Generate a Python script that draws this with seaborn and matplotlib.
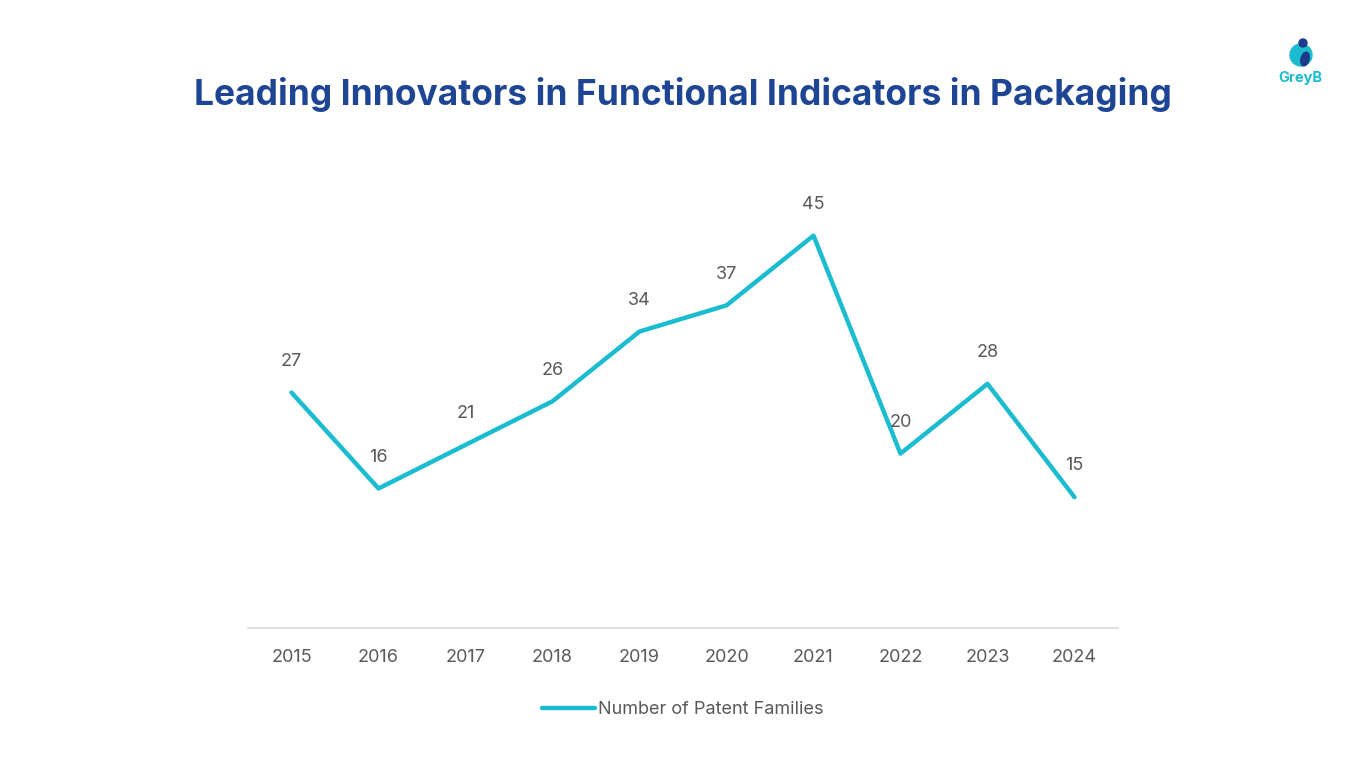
import matplotlib
matplotlib.use("Agg")
import matplotlib.pyplot as plt
import seaborn as sns
import pandas as pd
from matplotlib.patches import Circle, Ellipse

years = ["2015", "2016", "2017", "2018", "2019", "2020", "2021", "2022", "2023", "2024"]
families = [27, 16, 21, 26, 34, 37, 45, 20, 28, 15]
series_name = "Number of Patent Families"
title = "Leading Innovators in Functional Indicators in Packaging"

sns.set_theme(style="white")
plt.rcParams['font.family'] = ['Inter', 'DejaVu Sans']

df = pd.DataFrame({"Year": years, series_name: families})

fig = plt.figure(figsize=(13.66, 7.68), dpi=100)
ax = fig.add_axes([248/1366, 1-628/768, 870/1366, (628-192)/768])

line_color = "#1BBCCF"
sns.lineplot(data=df, x="Year", y=series_name, ax=ax, color=line_color,
             linewidth=3.2, label=series_name, sort=False)
ax.set_xlim(-0.5, len(years) - 0.5)
ax.set_ylim(0, 50)

for i, v in enumerate(families):
    ax.annotate(str(v), (i, v), xytext=(0, 22.5), textcoords="offset points",
                ha="center", va="center", fontsize=13, color="#595959")

for s in ["top", "right", "left"]:
    ax.spines[s].set_visible(False)
ax.spines["bottom"].set_color("#D9D9D9")
ax.spines["bottom"].set_linewidth(1.2)
ax.set_yticks([])
ax.set_xlabel("")
ax.set_ylabel("")
ax.tick_params(axis="x", length=0, pad=15, labelsize=13, labelcolor="#595959")

leg = ax.legend(loc="upper center", bbox_to_anchor=(0.5, -0.13), frameon=False,
                fontsize=13, handlelength=2.9, handletextpad=0.2)
for t in leg.get_texts():
    t.set_color("#595959")

fig.text(0.5, 1-95/768, title, ha="center", va="center", fontsize=25.5,
         fontweight="bold", color="#1E4593")

# GreyB logo
logo_ax = fig.add_axes([1280/1366, 1-90/768, 40/1366, 52/768])
logo_ax.set_xlim(0, 40)
logo_ax.set_ylim(0, 52)
logo_ax.set_aspect("equal")
logo_ax.axis("off")
logo_ax.add_patch(Circle((21, 35), 11, color="#1BBCCF"))
logo_ax.add_patch(Ellipse((25, 31), 8, 14, angle=-15, color="#1E3A8A"))
logo_ax.add_patch(Circle((23, 47), 4, color="#1E3A8A"))
logo_ax.text(20, 12, "GreyB", ha="center", va="center", fontsize=10.5,
             fontweight="bold", color="#1BBCCF")

fig.savefig("out.png", dpi=100, facecolor="white")
